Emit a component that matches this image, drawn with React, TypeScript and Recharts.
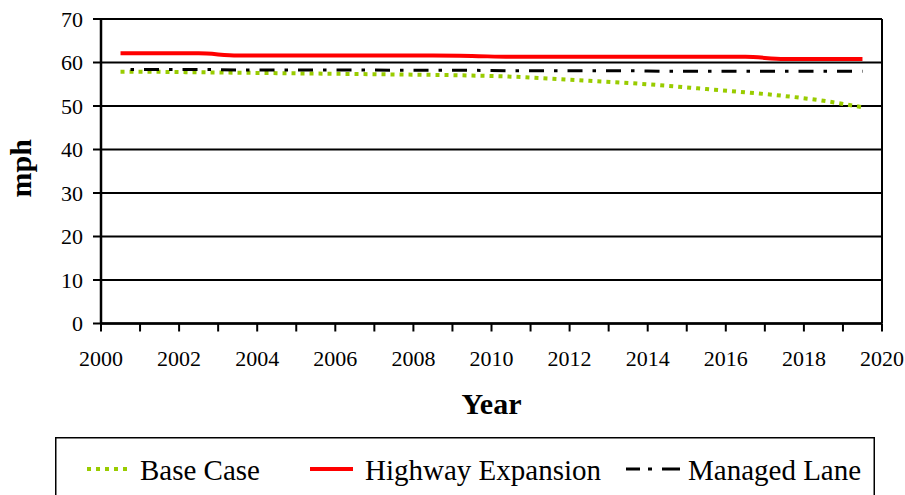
import { LineChart, Line, XAxis, YAxis, CartesianGrid, ReferenceLine } from "recharts";

const FONT = "'Liberation Serif', 'Times New Roman', serif";

const years = [
  2000.5, 2001.5, 2002.5, 2003.5, 2004.5, 2005.5, 2006.5, 2007.5, 2008.5, 2009.5,
  2010.5, 2011.5, 2012.5, 2013.5, 2014.5, 2015.5, 2016.5, 2017.5, 2018.5, 2019.5,
];
const baseCase = [
  57.9, 57.85, 57.75, 57.65, 57.55, 57.45, 57.35, 57.25, 57.15, 57.0,
  56.75, 56.3, 55.8, 55.3, 54.65, 53.9, 53.15, 52.3, 51.2, 49.7,
];
const highwayExpansion = [
  62.1, 62.1, 62.1, 61.6, 61.6, 61.6, 61.6, 61.6, 61.6, 61.5,
  61.3, 61.3, 61.3, 61.3, 61.3, 61.3, 61.3, 60.8, 60.8, 60.8,
];
const managedLane = [
  58.4, 58.4, 58.4, 58.3, 58.3, 58.3, 58.3, 58.2, 58.2, 58.2,
  58.1, 58.1, 58.1, 58.1, 58.0, 58.0, 58.0, 58.0, 58.0, 58.0,
];
const xTicks = [
  2000, 2001, 2002, 2003, 2004, 2005, 2006, 2007, 2008, 2009, 2010,
  2011, 2012, 2013, 2014, 2015, 2016, 2017, 2018, 2019, 2020,
];
const yTicks = [0, 10, 20, 30, 40, 50, 60, 70];

const data = years.map((year, i) => ({
  year,
  baseCase: baseCase[i],
  highwayExpansion: highwayExpansion[i],
  managedLane: managedLane[i],
}));

function MphLabel(props: any) {
  const vb = props.viewBox || { x: 0, y: 0, height: 0 };
  const cx = vb.x + 31;
  const cy = vb.y + vb.height / 2 - 3;
  return (
    <text
      x={cx}
      y={cy}
      transform={`rotate(-90 ${cx} ${cy})`}
      textAnchor="middle"
      fontFamily={FONT}
      fontSize={30}
      fontWeight="bold"
      fill="#000"
    >
      mph
    </text>
  );
}

function LegendBox() {
  return (
    <div style={{ position: "absolute", left: 55, top: 437, width: 820, height: 80 }}>
      <svg width={820} height={80} style={{ display: "block" }}>
        <rect x={0.75} y={0.75} width={818.5} height={90} fill="#fff" stroke="#000" strokeWidth={1.5} />
        <line x1={32} y1={32} x2={74} y2={32} stroke="#99CC00" strokeWidth={4} strokeDasharray="4 5" />
        <text x={85} y={43} fontFamily={FONT} fontSize={29} fill="#000">Base Case</text>
        <line x1={255} y1={32} x2={298} y2={32} stroke="#FF0000" strokeWidth={4} />
        <text x={310} y={43} fontFamily={FONT} fontSize={29} fill="#000">Highway Expansion</text>
        <line x1={571} y1={32} x2={625} y2={32} stroke="#000" strokeWidth={3} strokeDasharray="14 8 4 10 18" />
        <text x={633} y={43} fontFamily={FONT} fontSize={29} fill="#000">Managed Lane</text>
      </svg>
    </div>
  );
}

export default function App() {
  return (
    <div
      style={{
        position: "absolute",
        left: 0,
        top: 0,
        width: 905,
        height: 495,
        overflow: "hidden",
        background: "#fff",
      }}
    >
      <LineChart
        width={905}
        height={495}
        data={data}
        margin={{ top: 19, right: 23, left: 0, bottom: 111.5 }}
      >
        <CartesianGrid horizontal vertical={false} stroke="#000" strokeWidth={1.8} />
        <XAxis
          dataKey="year"
          type="number"
          domain={[2000, 2020]}
          ticks={xTicks}
          interval={0}
          height={60}
          tickSize={8}
          tickMargin={19}
          tickFormatter={(v) => (v % 2 === 0 ? String(v) : "")}
          tick={{ fill: "#000", fontSize: 22, fontFamily: FONT }}
          axisLine={{ stroke: "#000", strokeWidth: 2.5 }}
          tickLine={{ stroke: "#000", strokeWidth: 2 }}
          label={{
            value: "Year",
            position: "bottom",
            offset: 9,
            fill: "#000",
            fontSize: 30,
            fontWeight: "bold",
            fontFamily: FONT,
          }}
        />
        <YAxis
          type="number"
          domain={[0, 70]}
          ticks={yTicks}
          interval={0}
          width={101}
          tickSize={8}
          tickMargin={10}
          tick={{ fill: "#000", fontSize: 22, fontFamily: FONT }}
          axisLine={{ stroke: "#000", strokeWidth: 2.5 }}
          tickLine={{ stroke: "#000", strokeWidth: 2 }}
          label={{ content: (p: any) => <MphLabel {...p} /> }}
        />
        <ReferenceLine x={2020} stroke="#000" strokeWidth={2} />
        <Line
          type="monotone"
          dataKey="baseCase"
          stroke="#99CC00"
          strokeWidth={4}
          strokeDasharray="4 5"
          dot={false}
          activeDot={false}
          isAnimationActive={false}
        />
        <Line
          type="monotone"
          dataKey="highwayExpansion"
          stroke="#FF0000"
          strokeWidth={4}
          dot={false}
          activeDot={false}
          isAnimationActive={false}
        />
        <Line
          type="monotone"
          dataKey="managedLane"
          stroke="#000"
          strokeWidth={3}
          strokeDasharray="15 10 3.5 10"
          strokeDashoffset={15}
          dot={false}
          activeDot={false}
          isAnimationActive={false}
        />
      </LineChart>
      <LegendBox />
    </div>
  );
}
